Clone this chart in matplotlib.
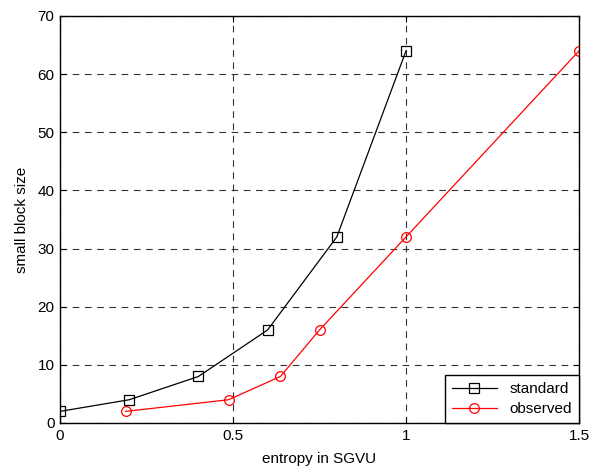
import matplotlib
matplotlib.use("Agg")
import matplotlib.pyplot as plt

std_x = [0.0, 0.2, 0.4, 0.6, 0.8, 1.0]
std_y = [2, 4, 8, 16, 32, 64]
obs_x = [0.19, 0.487, 0.637, 0.75, 1.0, 1.5]
obs_y = [2, 4, 8, 16, 32, 64]
xticks = [0, 0.5, 1, 1.5]
xticklabels = ["0", "0.5", "1", "1.5"]
yticks = [0, 10, 20, 30, 40, 50, 60, 70]

plt.rcParams['font.family'] = ['Liberation Sans', 'DejaVu Sans']
plt.rcParams['font.size'] = 11

fig = plt.figure(figsize=(6, 4.67), dpi=100)
ax = fig.add_axes([60/600, 1 - 423/467, (579-60)/600, (423-16)/467])

ax.plot(std_x, std_y, color='black', linewidth=0.9, marker='s', markersize=7,
        markerfacecolor='none', markeredgecolor='black', markeredgewidth=0.9, label='standard')
ax.plot(obs_x, obs_y, color='red', linewidth=0.9, marker='o', markersize=7,
        markerfacecolor='none', markeredgecolor='red', markeredgewidth=0.9, label='observed')

ax.set_xlim(0, 1.5)
ax.set_ylim(0, 70)
ax.set_xticks(xticks)
ax.set_xticklabels(xticklabels)
ax.set_yticks(yticks)
ax.grid(True, linestyle=(0, (6, 5)), color='#333333', linewidth=0.8)
ax.tick_params(direction='in', top=True, right=True, length=4, width=0.8, labelsize=11, pad=4)
for s in ax.spines.values():
    s.set_linewidth(1.0)
ax.set_xlabel('entropy in SGVU', fontsize=11, labelpad=6.5)
ax.set_ylabel('small block size', fontsize=11, labelpad=6)

leg = ax.legend(loc='lower right', fancybox=False, framealpha=1, edgecolor='black',
                borderaxespad=0.0, handlelength=3.0, fontsize=11, borderpad=0.45,
                labelspacing=0.4)
leg.get_frame().set_linewidth(1.0)

fig.savefig('out.png', dpi=100)
